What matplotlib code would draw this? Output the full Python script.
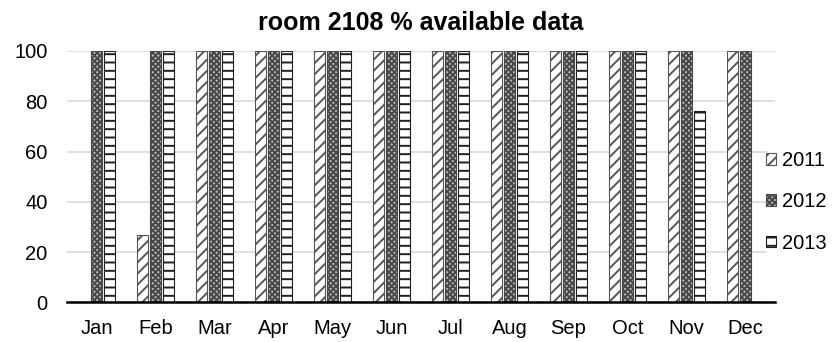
import matplotlib.pyplot as plt
import numpy as np

plt.rcParams['font.family'] = ['Liberation Sans', 'DejaVu Sans']
plt.rcParams['hatch.linewidth'] = 1.4

months = ['Jan', 'Feb', 'Mar', 'Apr', 'May', 'Jun',
          'Jul', 'Aug', 'Sep', 'Oct', 'Nov', 'Dec']
pct_2011 = [0, 27, 100, 100, 100, 100, 100, 100, 100, 100, 100, 100]
pct_2012 = [100, 100, 100, 100, 100, 100, 100, 100, 100, 100, 100, 100]
pct_2013 = [100, 100, 100, 100, 100, 100, 100, 100, 100, 100, 76, 0]
years = ['2011', '2012', '2013']

fig = plt.figure(figsize=(8.34, 3.42), dpi=100)
ax = fig.add_axes([0.0803, 0.1155, 0.849, 0.7355])

x = np.arange(len(months))
w = 0.18
step = 0.22
styles = [
    dict(facecolor='white', edgecolor='#555555', hatch='///'),
    dict(facecolor='#bcbcbc', edgecolor='#484848', hatch='xxxxxx'),
    dict(facecolor='white', edgecolor='#202020', hatch='--'),
]
for i, (vals, st) in enumerate(zip([pct_2011, pct_2012, pct_2013], styles)):
    ax.bar(x + (i - 1) * step, vals, width=w, linewidth=0.8,
           label=years[i], zorder=3, **st)

ax.set_xlim(-0.5, len(months) - 0.5)
ax.set_ylim(0, 100)
ax.set_yticks(range(0, 101, 20))
ax.set_xticks(x)
ax.set_xticklabels(months)
ax.tick_params(length=0, labelsize=14.5, colors='black')
ax.tick_params(axis='y', pad=14)
ax.tick_params(axis='x', pad=12)
ax.grid(axis='y', color='#d9d9d9', linewidth=1.2, zorder=0)
for s in ['top', 'right', 'left']:
    ax.spines[s].set_visible(False)
ax.spines['bottom'].set_linewidth(1.8)
ax.spines['bottom'].set_zorder(4)

ax.set_title('room 2108 % available data', fontsize=18,
             fontweight='bold', pad=15)

leg = ax.legend(loc='center left', bbox_to_anchor=(0.987, 0.40),
                frameon=True, fontsize=14.5, handlelength=0.5,
                handleheight=0.5, handletextpad=0.28, labelspacing=1.1,
                borderpad=0, borderaxespad=0)
leg.get_frame().set_edgecolor('white')
leg.get_frame().set_facecolor('white')
leg.get_frame().set_alpha(1)
leg.set_zorder(5)

fig.savefig('out.png', dpi=100)
